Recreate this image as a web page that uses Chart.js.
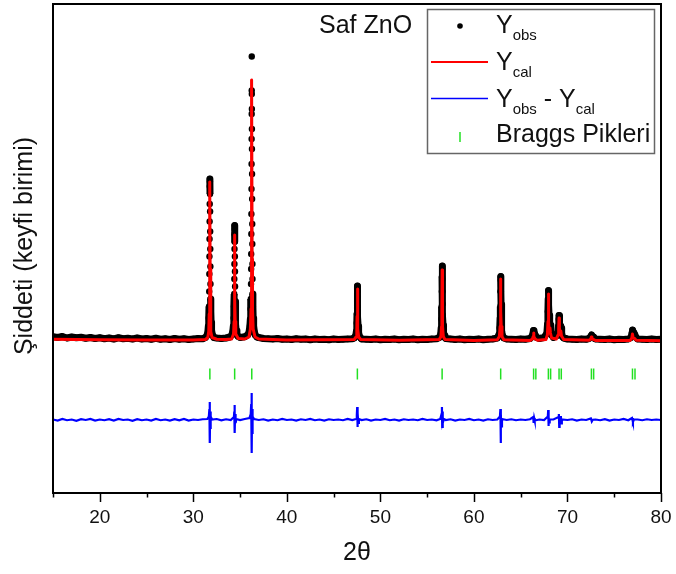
<!DOCTYPE html>
<html>
<head>
<meta charset="utf-8">
<script src="https://cdn.jsdelivr.net/npm/chart.js@4.4.1/dist/chart.umd.min.js"></script>
<style>html,body{margin:0;padding:0;background:#fff}canvas{display:block}</style>
</head>
<body>
<canvas id="xrd" width="676" height="574"></canvas>
<script>
// [2θ (deg), intensity (arb. counts)]
const yObs = [
  [15.0,345],[15.5,330],[16.0,350],[16.5,320],[17.0,340],[17.5,325],[18.0,335],[18.5,315],[19.0,330],[19.5,310],
  [20.0,325],[20.5,305],[21.0,320],[21.5,300],[22.0,325],[22.5,305],[23.0,315],[23.5,300],[24.0,320],[24.5,300],
  [25.0,310],[25.5,295],[26.0,315],[26.5,295],[27.0,305],[27.5,290],[28.0,310],[28.5,295],[29.0,305],[29.5,290],
  [30.0,300],[30.5,310],[31.0,305],[31.3,330],
  [31.45,370],[31.55,430],[31.61,560],[31.65,720],[31.68,950],[31.70,1250],[31.715,1600],[31.725,1950],[31.735,2300],
  [31.745,2650],[31.755,3000],[31.765,3350],[31.77,3500],[31.775,3450],[31.785,3200],[31.795,2850],[31.805,2450],
  [31.815,2100],[31.825,1750],[31.835,1400],[31.85,1100],[31.87,850],[31.90,640],[31.95,480],[32.03,390],[32.2,330],
  [32.5,320],[33.0,310],[33.5,320],[33.9,340],
  [34.12,380],[34.22,450],[34.28,560],[34.32,720],[34.35,950],[34.37,1200],[34.385,1500],[34.395,1800],[34.405,2100],
  [34.415,2400],[34.42,2570],[34.425,2500],[34.435,2250],[34.445,1950],[34.455,1650],[34.465,1350],[34.48,1050],
  [34.50,800],[34.53,600],[34.58,470],[34.66,390],[34.8,350],
  [35.0,330],[35.5,345],[35.8,380],
  [35.95,430],[36.05,560],[36.10,700],[36.13,900],[36.15,1100],[36.17,1400],[36.18,1700],[36.19,2000],[36.20,2400],
  [36.21,2800],[36.22,3300],[36.23,3800],[36.235,4300],[36.24,4800],[36.245,5270],[36.25,5950],[36.255,5200],
  [36.26,4900],[36.265,4500],[36.27,4100],[36.28,3600],[36.29,3100],[36.30,2600],[36.31,2200],[36.32,1800],
  [36.33,1500],[36.35,1200],[36.37,950],[36.40,720],[36.45,560],[36.52,450],[36.62,380],
  [36.8,340],[37.0,330],[37.5,310],[38.0,305],[38.5,300],[39.0,310],[39.5,295],[40.0,300],[40.5,290],[41.0,305],
  [41.5,295],[42.0,300],[42.5,285],[43.0,300],[43.5,290],[44.0,295],[44.5,285],[45.0,300],[45.5,290],[46.0,295],
  [46.5,300],[47.0,305],[47.2,320],
  [47.38,380],[47.44,460],[47.48,620],[47.50,800],[47.52,1050],[47.53,1250],[47.54,1360],[47.55,1300],[47.56,1150],
  [47.575,950],[47.59,750],[47.62,560],[47.67,430],[47.75,360],[47.9,320],
  [48.0,300],[48.5,295],[49.0,290],[49.5,300],[50.0,285],[50.5,295],[51.0,290],[51.5,300],[52.0,285],[52.5,295],
  [53.0,290],[53.5,300],[54.0,285],[54.5,295],[55.0,290],[55.5,300],[56.0,305],[56.3,330],
  [56.45,400],[56.50,520],[56.53,700],[56.555,950],[56.575,1250],[56.59,1550],[56.60,1760],[56.61,1700],[56.62,1500],
  [56.635,1250],[56.65,1000],[56.67,780],[56.70,580],[56.75,440],[56.82,370],[56.9,330],
  [57.0,310],[57.5,300],[58.0,290],[58.5,300],[59.0,285],[59.5,295],[60.0,290],[60.5,300],[61.0,285],[61.5,295],
  [62.0,300],[62.5,320],
  [62.70,400],[62.76,520],[62.80,720],[62.825,950],[62.845,1250],[62.86,1550],[62.87,1480],[62.885,1250],
  [62.90,1000],[62.92,780],[62.95,600],[63.00,450],[63.08,360],[63.2,320],
  [63.5,300],[64.0,295],[64.5,290],[65.0,300],[65.5,295],[66.0,310],
  [66.20,350],[66.30,400],[66.36,470],[66.42,450],[66.50,400],[66.58,370],[66.70,330],
  [67.0,310],[67.5,330],
  [67.80,420],[67.87,600],[67.91,850],[67.94,1100],[67.96,1270],[67.98,1200],[68.00,980],[68.03,780],[68.07,620],
  [68.12,640],[68.16,580],[68.22,460],[68.30,380],[68.5,330],[68.8,360],
  [68.98,430],[69.04,560],[69.08,700],[69.10,770],[69.13,720],[69.17,600],[69.22,500],[69.28,560],[69.32,520],
  [69.38,420],[69.45,350],[69.6,320],
  [70.0,300],[70.5,295],[71.0,290],[71.5,300],[72.0,295],[72.3,310],
  [72.50,350],[72.58,380],[72.66,350],[72.80,340],[72.9,310],
  [73.0,300],[73.5,295],[74.0,290],[74.5,300],[75.0,285],[75.5,295],[76.0,290],[76.5,300],[76.8,330],
  [76.90,420],[76.96,480],[77.02,430],[77.10,380],[77.20,390],[77.30,340],
  [77.5,300],[78.0,295],[78.5,290],[79.0,300],[79.5,290],[80.0,295]
];

const yCal = [
  [15.0,295],[20.0,285],[25.0,280],[30.0,280],
  [31.3,290],[31.55,330],[31.65,450],[31.70,800],[31.74,1700],[31.77,3440],[31.80,1700],[31.84,800],[31.89,450],[32.0,330],
  [32.5,295],[33.5,290],
  [34.1,300],[34.30,400],[34.36,650],[34.39,1100],[34.42,2380],[34.45,1100],[34.48,650],[34.54,400],[34.8,310],
  [35.5,300],
  [35.95,340],[36.10,500],[36.17,900],[36.21,1900],[36.25,5480],[36.29,1900],[36.33,900],[36.40,500],[36.6,340],
  [37.0,300],[40.0,280],
  [47.2,290],[47.40,340],[47.48,500],[47.51,750],[47.54,1300],[47.57,750],[47.60,500],[47.68,340],[47.9,290],
  [52.0,275],
  [56.3,290],[56.47,350],[56.54,550],[56.57,900],[56.60,1680],[56.63,900],[56.66,550],[56.73,350],[56.9,290],
  [60.0,270],
  [62.5,285],[62.72,350],[62.80,550],[62.83,850],[62.86,1500],[62.89,850],[62.92,550],[63.0,350],[63.2,285],
  [66.0,270],[66.25,300],[66.34,350],[66.38,420],[66.42,350],[66.55,300],[66.8,275],
  [67.7,290],[67.85,380],[67.92,650],[67.96,1200],[68.00,650],[68.06,420],[68.13,520],[68.18,420],[68.30,320],
  [68.8,300],[69.00,380],[69.06,520],[69.10,720],[69.14,520],[69.22,400],[69.29,460],[69.36,360],[69.6,290],
  [72.3,275],[72.50,300],[72.56,340],[72.62,300],[72.80,290],[73.0,270],
  [76.7,270],[76.88,320],[76.95,400],[77.02,320],[77.18,310],[77.35,275],[80.0,265]
];

// difference curve, shifted below the pattern
const yDiff = [
  [15.0,-1310],[15.5,-1330],[16.0,-1300],[16.5,-1325],[17.0,-1310],[17.5,-1335],[18.0,-1305],[18.5,-1320],
  [19.0,-1300],[19.5,-1330],[20.0,-1310],[20.5,-1325],[21.0,-1305],[21.5,-1330],[22.0,-1300],[22.5,-1320],
  [23.0,-1310],[23.5,-1335],[24.0,-1305],[24.5,-1325],[25.0,-1310],[25.5,-1330],[26.0,-1300],[26.5,-1325],
  [27.0,-1310],[27.5,-1330],[28.0,-1305],[28.5,-1325],[29.0,-1300],[29.5,-1330],[30.0,-1310],[30.5,-1320],
  [31.0,-1305],[31.5,-1300],
  [31.66,-1250],[31.72,-1100],[31.74,-1450],[31.76,-960],[31.78,-1780],[31.80,-1150],[31.83,-1500],[31.88,-1250],
  [32.0,-1310],[32.5,-1300],[33.0,-1325],[33.5,-1305],[34.0,-1320],
  [34.34,-1260],[34.38,-1150],[34.40,-1400],[34.42,-1020],[34.44,-1580],[34.47,-1200],[34.52,-1380],[34.6,-1300],
  [35.0,-1320],[35.5,-1300],[36.0,-1280],
  [36.14,-1200],[36.19,-1000],[36.22,-1500],[36.24,-780],[36.26,-1980],[36.28,-1100],[36.31,-1600],[36.36,-1250],
  [36.5,-1300],[37.0,-1320],[37.5,-1305],[38.0,-1330],[38.5,-1310],[39.0,-1325],[39.5,-1300],[40.0,-1320],
  [40.5,-1310],[41.0,-1330],[41.5,-1305],[42.0,-1320],[42.5,-1300],[43.0,-1325],[43.5,-1310],[44.0,-1330],
  [44.5,-1305],[45.0,-1320],[45.5,-1310],[46.0,-1325],[46.5,-1300],[47.0,-1320],[47.4,-1300],
  [47.48,-1220],[47.52,-1060],[47.55,-1460],[47.58,-1180],[47.63,-1380],[47.7,-1300],
  [48.0,-1320],[48.5,-1305],[49.0,-1330],[49.5,-1310],[50.0,-1320],[50.5,-1300],[51.0,-1325],[51.5,-1310],
  [52.0,-1330],[52.5,-1305],[53.0,-1320],[53.5,-1310],[54.0,-1325],[54.5,-1300],[55.0,-1320],[55.5,-1310],
  [56.0,-1325],[56.4,-1300],
  [56.54,-1200],[56.58,-1060],[56.61,-1460],[56.64,-1150],[56.69,-1380],[56.8,-1300],
  [57.0,-1320],[57.5,-1305],[58.0,-1330],[58.5,-1310],[59.0,-1320],[59.5,-1300],[60.0,-1325],[60.5,-1310],
  [61.0,-1330],[61.5,-1305],[62.0,-1320],[62.5,-1310],
  [62.78,-1250],[62.83,-1100],[62.86,-1780],[62.89,-1200],[62.93,-1450],[63.0,-1300],
  [63.5,-1320],[64.0,-1305],[64.5,-1325],[65.0,-1310],[65.5,-1320],[66.0,-1305],
  [66.34,-1260],[66.37,-1240],[66.40,-1380],[66.44,-1280],[66.5,-1330],[67.0,-1310],[67.5,-1320],
  [67.90,-1250],[67.94,-1120],[67.97,-1440],[68.00,-1260],[68.04,-1370],[68.1,-1310],[68.5,-1310],
  [69.04,-1260],[69.08,-1200],[69.12,-1460],[69.16,-1280],[69.26,-1300],[69.30,-1240],[69.34,-1390],[69.4,-1310],
  [70.0,-1320],[70.5,-1305],[71.0,-1330],[71.5,-1310],[72.0,-1320],[72.5,-1290],[72.6,-1350],[72.7,-1315],
  [73.0,-1310],[73.5,-1325],[74.0,-1305],[74.5,-1330],[75.0,-1310],[75.5,-1320],[76.0,-1300],[76.5,-1325],
  [76.9,-1280],[77.0,-1360],[77.1,-1310],[77.5,-1310],[78.0,-1325],[78.5,-1305],[79.0,-1320],[79.5,-1310],
  [80.0,-1320]
];

// ZnO reflections (Kα1 + Kα2 where split)
const braggPeaks = [31.77, 34.42, 36.25, 47.54, 56.60, 62.86, 66.38, 66.62, 67.96, 68.20, 69.10, 69.34, 72.56, 72.80, 76.95, 77.22];
const BRAGG_ROW = -400;

const xTicks = [20, 30, 40, 50, 60, 70, 80];
const xMinorTicks = [15, 25, 35, 45, 55, 65, 75];
const Y_MIN = -2780, Y_MAX = 7000;

const FONT = "'Liberation Sans', Arial, sans-serif";
const C = { obs: "#000", cal: "#ff0000", diff: "#0000ff", bragg: "#22e022", text: "#111" };
const pts = a => a.map(([x, y]) => ({ x, y }));

const legendRows = [
  { mark: "dot", parts: [["Y"], ["obs", 1]] },
  { mark: "red", parts: [["Y"], ["cal", 1]] },
  { mark: "blue", parts: [["Y"], ["obs", 1], [" - Y"], ["cal", 1]] },
  { mark: "tick", parts: [["Braggs Pikleri"]] }
];

function drawLegend(ctx) {
  ctx.save();
  ctx.fillStyle = "#fff";
  ctx.fillRect(427.5, 9.5, 227, 144);
  ctx.strokeStyle = "#666"; ctx.lineWidth = 1.5;
  ctx.strokeRect(427.5, 9.5, 227, 144);
  const base = [33, 70, 106.5, 141.5];
  legendRows.forEach((r, i) => {
    const b = base[i], mid = b - 8;
    if (r.mark === "dot") {
      ctx.fillStyle = C.obs; ctx.beginPath(); ctx.arc(460, 26, 2.8, 0, Math.PI * 2); ctx.fill();
    } else if (r.mark === "red" || r.mark === "blue") {
      ctx.strokeStyle = r.mark === "red" ? C.cal : C.diff;
      ctx.lineWidth = r.mark === "red" ? 2.2 : 1.3;
      ctx.beginPath(); ctx.moveTo(431, mid); ctx.lineTo(488, mid); ctx.stroke();
    } else {
      ctx.strokeStyle = C.bragg; ctx.lineWidth = 1.5;
      ctx.beginPath(); ctx.moveTo(460, 132); ctx.lineTo(460, 142); ctx.stroke();
    }
    let x = 496;
    ctx.fillStyle = C.text; ctx.textBaseline = "alphabetic"; ctx.textAlign = "left";
    r.parts.forEach(([t, sub]) => {
      ctx.font = sub ? `15px ${FONT}` : `25px ${FONT}`;
      ctx.fillText(t, x, sub ? b + 7 : b);
      x += ctx.measureText(t).width;
    });
  });
  ctx.restore();
}

const framePlugin = {
  id: "frame",
  afterDraw(chart) {
    const { ctx, chartArea: a, scales: { x } } = chart;
    ctx.save();
    ctx.strokeStyle = "#000"; ctx.lineWidth = 2;
    ctx.strokeRect(a.left, a.top, a.right - a.left, a.bottom - a.top);
    ctx.lineWidth = 1.5;
    const tick = (v, len) => {
      const px = Math.round(x.getPixelForValue(v)) + 0.5;
      ctx.beginPath(); ctx.moveTo(px, a.bottom); ctx.lineTo(px, a.bottom + len); ctx.stroke();
    };
    xTicks.forEach(v => tick(v, 9));
    xMinorTicks.forEach(v => tick(v, 4.5));

    // y title
    ctx.fillStyle = C.text;
    ctx.font = `25px ${FONT}`;
    ctx.textAlign = "center"; ctx.textBaseline = "middle";
    ctx.translate(25, 246);
    ctx.rotate(-Math.PI / 2);
    ctx.fillText("Şiddeti (keyfi birimi)", 0, 0);
    ctx.setTransform(1, 0, 0, 1, 0, 0);

    ctx.textAlign = "left"; ctx.textBaseline = "alphabetic";
    ctx.fillText("Saf ZnO", 319, 33);
    drawLegend(ctx);
    ctx.restore();
  }
};

Chart.defaults.font.family = FONT;

new Chart(document.getElementById("xrd"), {
  type: "scatter",
  data: {
    datasets: [
      { label: "Ycal", data: pts(yCal), showLine: true, borderColor: C.cal, borderWidth: 3, pointRadius: 0, borderJoinStyle: "round", order: 0 },
      {
        label: "Yobs", data: pts(yObs), showLine: true, borderColor: C.obs, backgroundColor: C.obs, borderWidth: 7,
        borderJoinStyle: "round", pointRadius: 3.2, pointBorderWidth: 0, order: 1,
        // steep steps between scan points stay as separate dots
        segment: { borderColor: s => Math.abs(s.p1.parsed.y - s.p0.parsed.y) > 260 ? "rgba(0,0,0,0)" : C.obs }
      },
      { label: "Yobs - Ycal", data: pts(yDiff), showLine: true, borderColor: C.diff, borderWidth: 2.2, pointRadius: 0, order: 2 },
      { label: "Braggs Pikleri", data: braggPeaks.map(x => ({ x, y: BRAGG_ROW })), pointStyle: "line", rotation: 90, pointRadius: 5.5, borderColor: C.bragg, borderWidth: 1.5, order: 3 }
    ]
  },
  options: {
    responsive: false, animation: false, devicePixelRatio: 1,
    layout: { padding: { left: 53, right: 15, top: 4, bottom: 0 }, autoPadding: false },
    plugins: { legend: { display: false }, tooltip: { enabled: false } },
    scales: {
      x: {
        type: "linear", min: 15, max: 80,
        afterFit: s => { s.height = 81; s.paddingLeft = 0; s.paddingRight = 0 },
        afterBuildTicks: s => { s.ticks = xTicks.map(v => ({ value: v })) },
        grid: { display: false, drawTicks: false }, border: { display: false },
        ticks: { padding: 13, color: C.text, font: { size: 19 }, maxRotation: 0, autoSkip: false },
        title: { display: true, text: "2θ", color: C.text, font: { size: 25 }, padding: { top: 0, bottom: 6 } }
      },
      y: { display: false, min: Y_MIN, max: Y_MAX }
    }
  },
  plugins: [framePlugin]
});
</script>
</body>
</html>
